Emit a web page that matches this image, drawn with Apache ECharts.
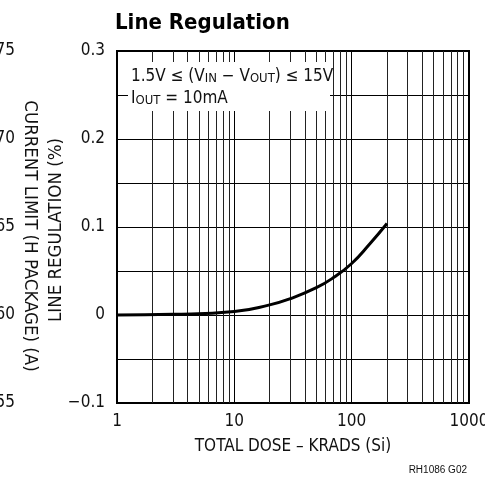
<!DOCTYPE html>
<html><head><meta charset="utf-8">
<script src="https://cdn.jsdelivr.net/npm/echarts@6/dist/echarts.min.js"></script>
<style>html,body{margin:0;padding:0;background:#fff}#c{width:485px;height:479px}</style>
</head><body><div id="c"></div>
<script>
// Data
const doses   = [1, 3, 10, 20, 30, 50, 70, 100, 140, 200];
const lineReg = [0, 0.0008, 0.004, 0.0115, 0.0185, 0.031, 0.0425, 0.0585, 0.0795, 0.104];
const xTickLabels = {1: '1', 10: '10', 100: '100', 1000: '1000'};
const yTickValues = [0.3, 0.2, 0.1, 0, -0.1];
const yTickLabels = ['0.3', '0.2', '0.1', '0', '\u22120.1'];
const minorGridX = [2,3,4,5,6,7,8,9,20,30,40,50,60,70,80,90,200,300,400,500,600,700,800,900];
const neighborLabels = ['75', '70', '65', '60', '55'];

const FONT = "'DejaVu Sans Condensed', 'Liberation Sans Narrow', 'Liberation Sans', sans-serif";

const chart = echarts.init(document.getElementById('c'), null, {renderer: 'canvas'});

const option = {
  backgroundColor: '#fff',
  animation: false,
  grid: {left: 117, right: 16, top: 51, bottom: 76, show: true, borderColor: '#000', borderWidth: 2,
         backgroundColor: 'transparent', containLabel: false, outerBoundsMode: 'none'},
  xAxis: {
    type: 'log', logBase: 10, min: 1, max: 1000,
    axisLine: {show: false}, axisTick: {show: false},
    splitLine: {show: true, lineStyle: {color: '#000', width: 1}},
    axisLabel: {fontFamily: FONT, fontSize: 17, color: '#111', margin: 10,
      formatter: function (v) { const k = Math.round(v); return xTickLabels[k] !== undefined ? xTickLabels[k] : ''; }},
    name: 'TOTAL DOSE \u2013 KRADS (Si)', nameLocation: 'middle', nameGap: 35,
    nameTextStyle: {fontFamily: FONT, fontSize: 17, color: '#111'}
  },
  yAxis: {
    type: 'value', min: -0.1, max: 0.3, interval: 0.05,
    axisLine: {show: false}, axisTick: {show: false},
    splitLine: {show: true, lineStyle: {color: '#000', width: 1}},
    axisLabel: {
      fontFamily: FONT, fontSize: 17, color: '#111', margin: 12,
      formatter: function (v) {
        for (let i = 0; i < yTickValues.length; i++) {
          if (Math.abs(v - yTickValues[i]) < 1e-9) return yTickLabels[i];
        }
        return '';
      }
    }
  },
  series: [{
    type: 'line', smooth: 0.5, symbol: 'none',
    data: doses.map((d, i) => [d, lineReg[i]]),
    lineStyle: {color: '#000', width: 3},
    z: 5,
    markLine: {
      silent: true, symbol: 'none', label: {show: false},
      lineStyle: {color: '#222', width: 1, type: 'solid'},
      data: minorGridX.map(v => ({xAxis: v})),
      z: 1
    }
  }]
};
chart.setOption(option);

// Extra texts
const graphics = [];
graphics.push({
  type: 'text', left: 115, top: 12,
  style: {text: 'Line Regulation', font: "bold 22px " + FONT, fill: '#000'}
});
// annotation box
graphics.push({
  type: 'rect', shape: {x: 128, y: 62, width: 202, height: 49},
  style: {fill: '#fff'}, z: 50
});
graphics.push({
  type: 'text', x: 131, y: 63, z: 51,
  style: {
    rich: {
      m: {fontFamily: FONT, fontSize: 17, lineHeight: 22, fill: '#111', verticalAlign: 'bottom'},
      s: {fontFamily: FONT, fontSize: 13, lineHeight: 8, fill: '#111', verticalAlign: 'bottom'}
    },
    text: '{m|1.5V \u2264 (V}{s|IN}{m| \u2212 V}{s|OUT}{m|) \u2264 15V}\n{m|I}{s|OUT}{m| = 10mA}'
  }
});
// axis name (y)
graphics.push({
  type: 'text', x: 56, y: 230, rotation: Math.PI / 2,
  style: {text: 'LINE REGULATION (%)', font: "18.5px " + FONT, fill: '#111', align: 'center', verticalAlign: 'middle'}
});
// neighbor chart fragments
graphics.push({
  type: 'text', x: 30, y: 236, rotation: -Math.PI / 2,
  style: {text: 'CURRENT LIMIT (H PACKAGE) (A)', font: "18.5px " + FONT, fill: '#111', align: 'center', verticalAlign: 'middle'}
});
yTickValues.forEach((v, i) => {
  const py = chart.convertToPixel({yAxisIndex: 0}, v);
  graphics.push({
    type: 'text', x: 15, y: py,
    style: {text: neighborLabels[i], font: "17px " + FONT, fill: '#111', align: 'right', verticalAlign: 'middle'}
  });
});
graphics.push({
  type: 'text', x: 467, y: 470,
  style: {text: 'RH1086 G02', font: "10px 'Liberation Sans', Arial, sans-serif", fill: '#111', align: 'right', verticalAlign: 'middle'}
});
chart.setOption({graphic: graphics});
</script></body></html>
